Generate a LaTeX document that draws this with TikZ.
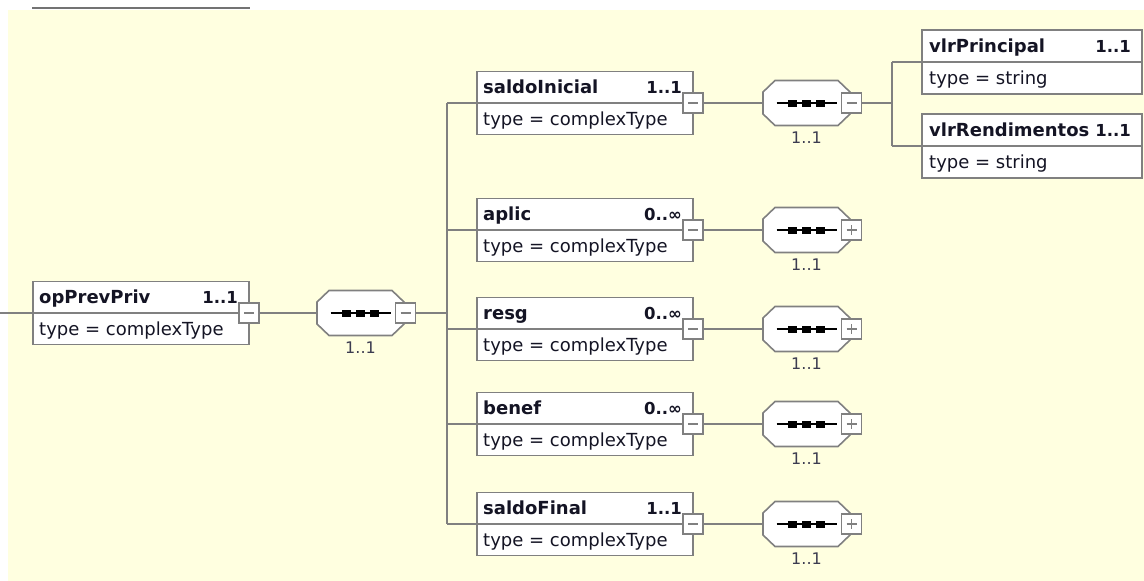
\documentclass[tikz,border=0pt]{standalone}
\usepackage{fontspec}
\setmainfont{DejaVu Sans}
\definecolor{bgyellow}{RGB}{255,255,224}
\definecolor{boxgray}{RGB}{128,128,128}
\definecolor{linegray}{RGB}{128,128,128}
\definecolor{txt}{RGB}{20,20,36}
\definecolor{occ}{RGB}{60,60,80}
\tikzset{
  elbox/.style={draw=boxgray, line width=1.6pt, fill=white, minimum width=216pt, minimum height=63pt, inner sep=0pt, outer sep=0pt},
  leafbox/.style={elbox, minimum width=220pt, minimum height=64pt},
  conn/.style={draw=linegray, line width=1.4pt},
  divline/.style={draw=boxgray, line width=1.4pt},
  compnode/.style={draw=none, minimum width=87pt, minimum height=45pt, inner sep=0pt, outer sep=0pt},
  compline/.style={draw=boxgray, line width=1.6pt, fill=white},
  sqbox/.style={draw=boxgray, line width=1.6pt, fill=white, minimum size=20pt, inner sep=0pt, outer sep=0pt},
  signline/.style={draw=boxgray, line width=1.3pt},
  nametxt/.style={font=\fontsize{18}{20}\selectfont\bfseries, text=txt, inner sep=0pt},
  multtxt/.style={font=\fontsize{16.5}{18}\selectfont\bfseries, text=txt, inner sep=0pt},
  typetxt/.style={font=\fontsize{18}{20}\selectfont, text=txt, inner sep=0pt},
  occtxt/.style={font=\fontsize{16}{18}\selectfont, text=occ, inner sep=0pt},
}
% element box: id, left x, divider y, name, multiplicity
\newcommand{\xelem}[5]{%
  \node[elbox, anchor=west] (#1) at (#2,#3) {};
  \draw[divline] (#1.west) -- (#1.east);
  \node[nametxt, anchor=base west] (#1n) at ({#2+6},{#3-10}) {#4};
  \node[multtxt, anchor=base east] (#1m) at ({#2+205},{#3-10}) {#5};
  \node[typetxt, anchor=base west] (#1t) at ({#2+6},{#3+22}) {type = complexType};
  \node[sqbox] (#1s) at (#1.east) {};
  \draw[signline] (#1s.center) ++(-5,0) -- ++(10,0);
}
% leaf box: id, left x, divider y, name, multiplicity, type
\newcommand{\xleaf}[6]{%
  \node[leafbox, anchor=west] (#1) at (#2,#3) {};
  \draw[divline] (#1.west) -- (#1.east);
  \node[nametxt, anchor=base west] (#1n) at ({#2+7},{#3-10}) {#4};
  \node[multtxt, anchor=base east] (#1m) at ({#2+209},{#3-10}) {#5};
  \node[typetxt, anchor=base west] (#1t) at ({#2+7},{#3+22}) {type = #6};
}
% sequence compositor: id, center x, center y, 0=minus 1=plus
\newcommand{\xcomp}[4]{%
  \node[compnode] (#1) at (#2,#3) {};
  \draw[compline] (#1.center) ++(-43.5,-11) -- ++(12,-11.5) -- ++(63,0) -- ++(12,11.5)
     -- ++(0,22) -- ++(-12,11.5) -- ++(-63,0) -- ++(-12,-11.5) -- cycle;
  \draw[black, line width=2pt] (#1.center) ++(-30,0) -- ++(60,0);
  \fill[black] (#1.center) ++(-18.5,-3.5) rectangle ++(9,7);
  \fill[black] (#1.center) ++(-4.5,-3.5) rectangle ++(9,7);
  \fill[black] (#1.center) ++(9.5,-3.5) rectangle ++(9,7);
  \node[sqbox] (#1s) at ({#2+45},#3) {};
  \draw[signline] (#1s.center) ++(-5,0) -- ++(10,0);
  \ifnum#4=1 \draw[signline] (#1s.center) ++(0,-5) -- ++(0,10);\fi
  \node[occtxt, anchor=base] (#1o) at (#2,{#3+40}) {1..1};
}
\begin{document}
\begin{tikzpicture}[x=1pt, y=-1pt]
\useasboundingbox (0,0) rectangle (1144,581);
\fill[white] (0,0) rectangle (1144,581);
\fill[bgyellow] (8,10) rectangle (1144,581);
\draw[draw=black!55, line width=2.2pt] (32,8.3) -- (250,8.3);

% coordinates for connectors
\coordinate (lstart) at (0,313);
\coordinate (t0) at (447,313);
\coordinate (t1) at (892,103);

% connectors
\draw[conn] (lstart) -- (33,313) coordinate (e0w);
\draw[conn] (e0w) -- (260,313) coordinate (e0r);
\draw[conn] (e0r) -- (t0);
\draw[conn] (t0 |- 0,103) -- (t0 |- 0,524);
\foreach \yy in {103,230,329,424,524} {
  \draw[conn] (t0 |- 0,\yy) -- (477,\yy);
  \draw[conn] (703,\yy) -- (763,\yy);
}
\draw[conn] (862,103) -- (t1);
\draw[conn] (t1 |- 0,62) -- (t1 |- 0,146);
\draw[conn] (t1 |- 0,62) -- (922,62);
\draw[conn] (t1 |- 0,146) -- (922,146);

% root element and its compositor
\xelem{e0}{33}{313}{opPrevPriv}{1..1}
\xcomp{c0}{360.5}{313}{0}

% children
\xelem{e1}{477}{103}{saldoInicial}{1..1}
\xelem{e2}{477}{230}{aplic}{0..∞}
\xelem{e3}{477}{329}{resg}{0..∞}
\xelem{e4}{477}{424}{benef}{0..∞}
\xelem{e5}{477}{524}{saldoFinal}{1..1}

\xcomp{c1}{806.5}{103}{0}
\xcomp{c2}{806.5}{230}{1}
\xcomp{c3}{806.5}{329}{1}
\xcomp{c4}{806.5}{424}{1}
\xcomp{c5}{806.5}{524}{1}

% leaves
\xleaf{l1}{922}{62}{vlrPrincipal}{1..1}{string}
\xleaf{l2}{922}{146}{vlrRendimentos}{1..1}{string}
\end{tikzpicture}
\end{document}
